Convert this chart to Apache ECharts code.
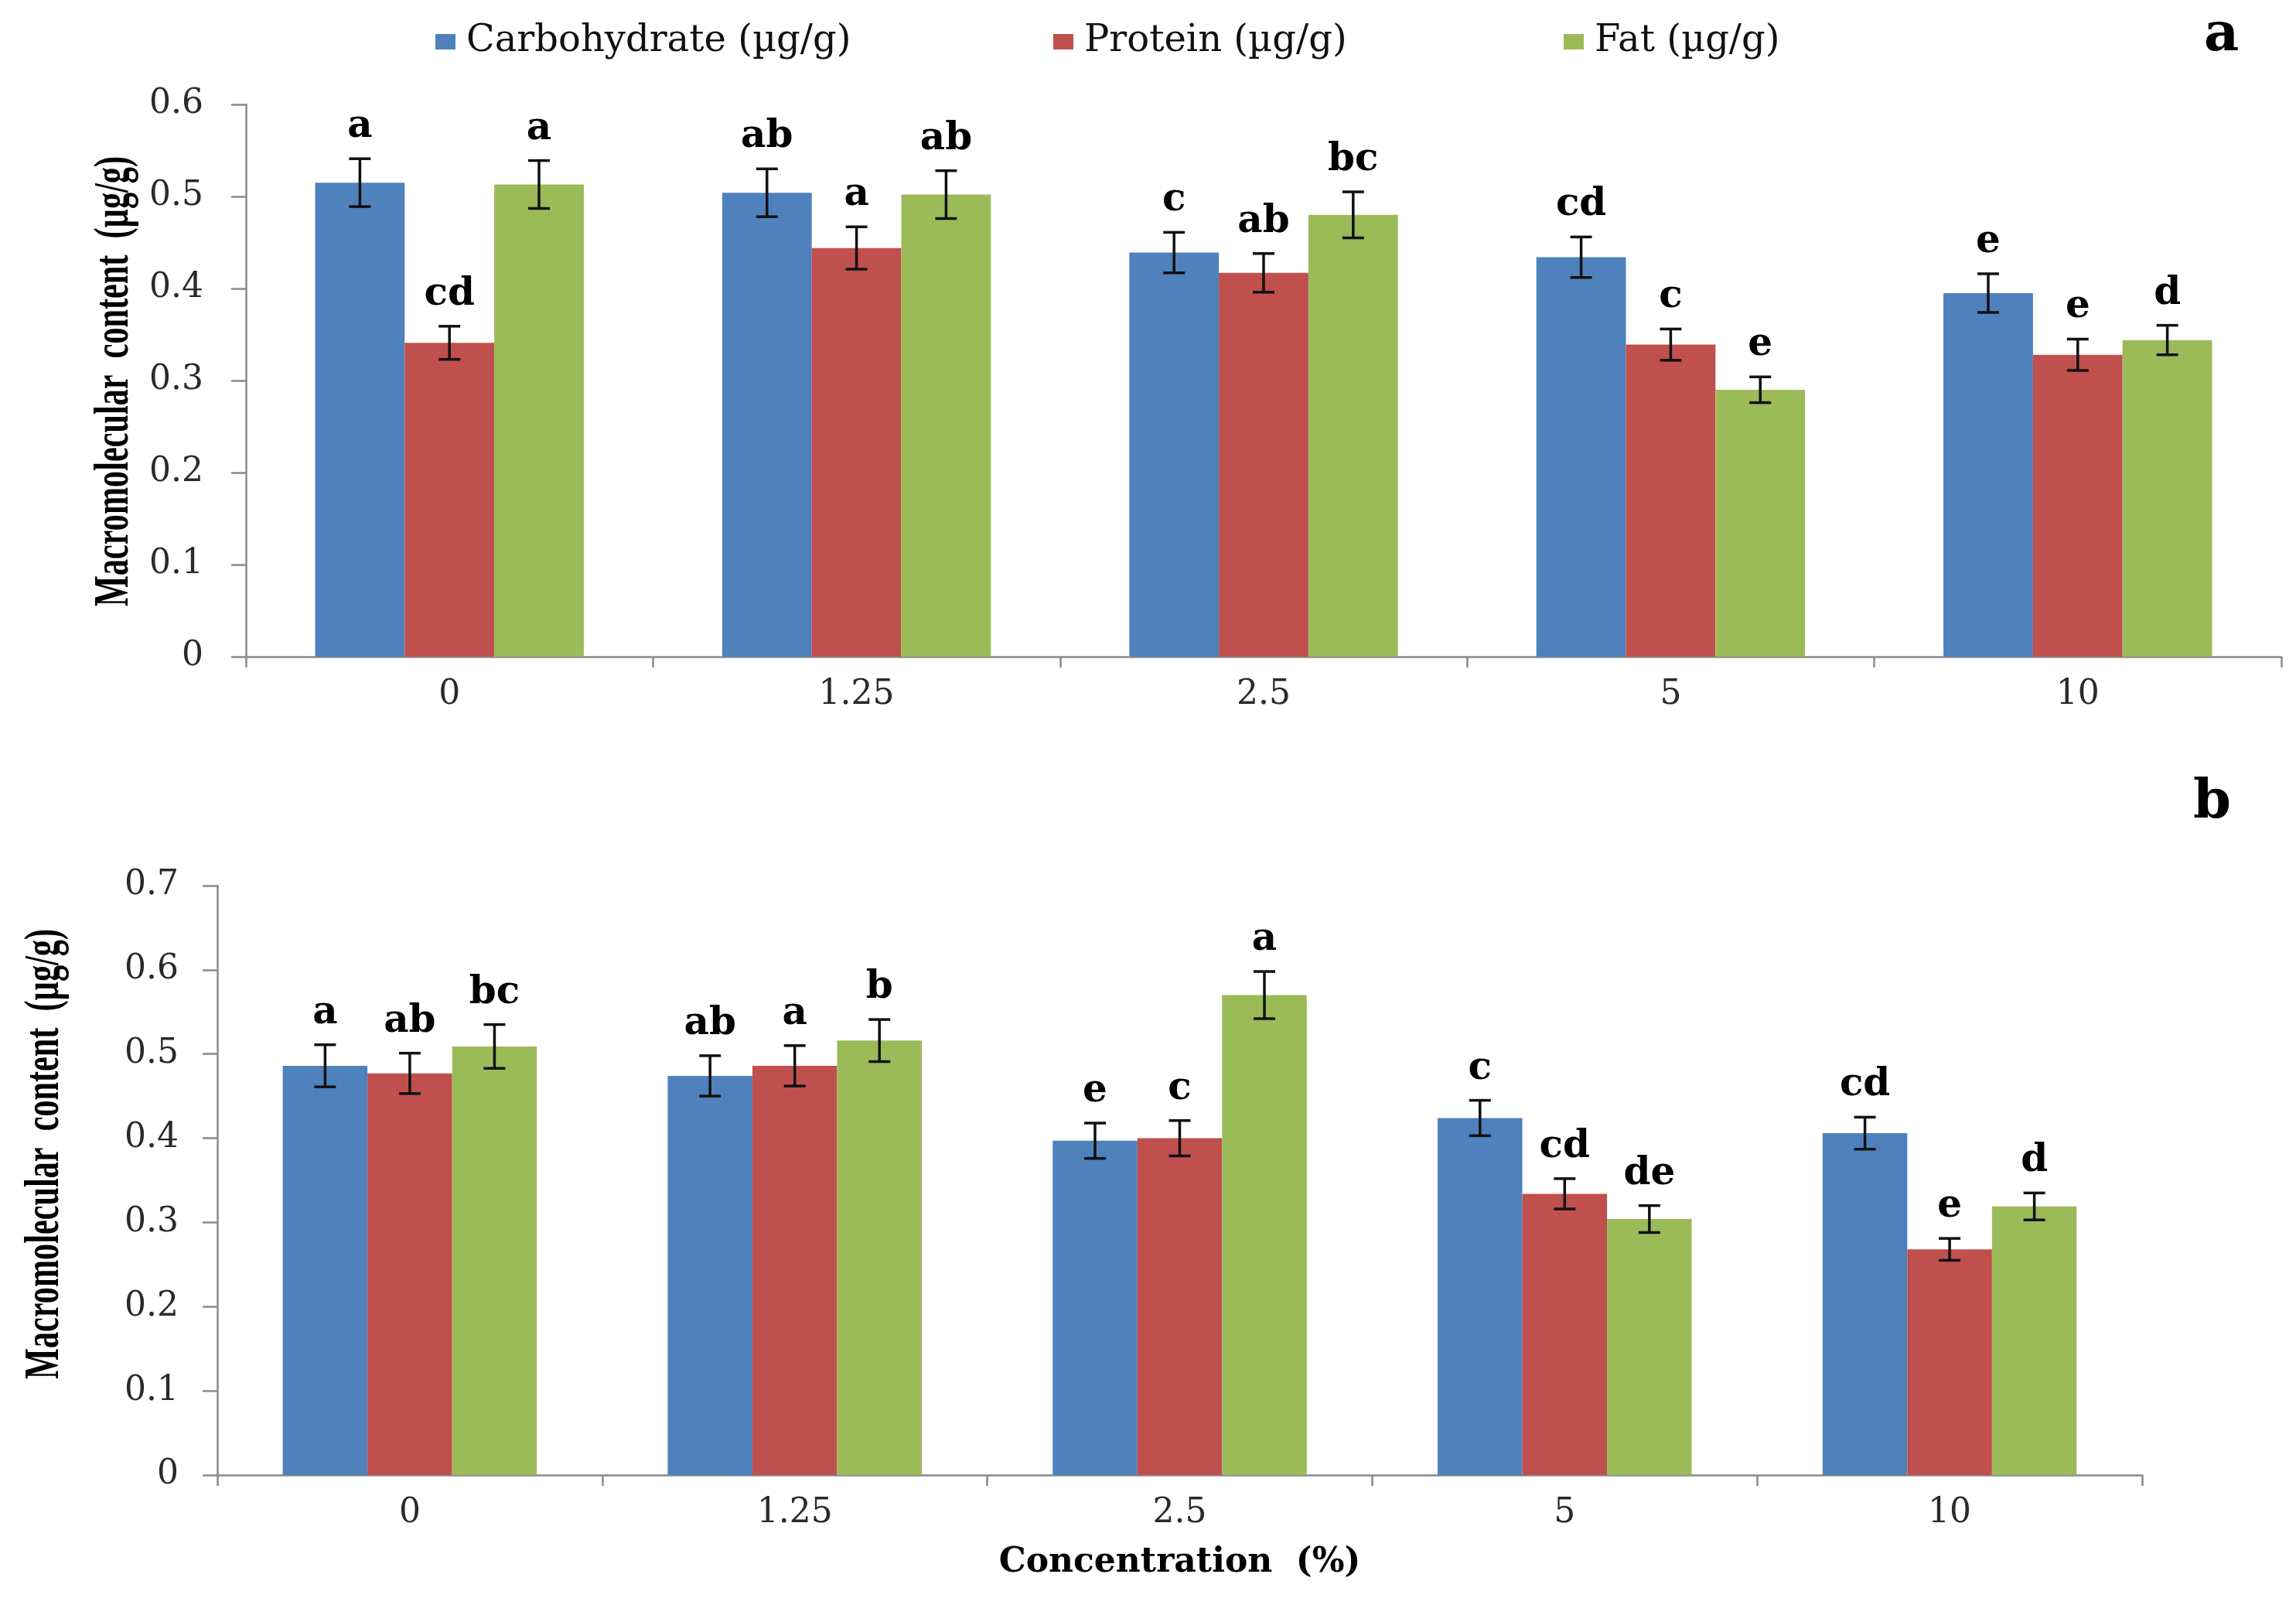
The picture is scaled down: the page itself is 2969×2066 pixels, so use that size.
<!DOCTYPE html>
<html>
<head>
<meta charset="utf-8">
<script src="https://cdn.jsdelivr.net/npm/echarts@6/dist/echarts.min.js"></script>
<style>html,body{margin:0;padding:0;background:#fff}#c{width:2969px;height:2066px}</style>
</head>
<body>
<div id="c"></div>
<script>
// ---- data ----
const categories = ['0', '1.25', '2.5', '5', '10'];
const seriesNames = ['Carbohydrate (µg/g)', 'Protein (µg/g)', 'Fat (µg/g)'];

// panel a
const carbA = [0.515, 0.504, 0.439, 0.434, 0.395];
const carbErrA = [0.026, 0.026, 0.022, 0.022, 0.021];
const protA = [0.341, 0.444, 0.417, 0.339, 0.328];
const protErrA = [0.018, 0.023, 0.021, 0.017, 0.017];
const fatA = [0.513, 0.502, 0.480, 0.290, 0.344];
const fatErrA = [0.026, 0.026, 0.025, 0.014, 0.016];
const carbLettersA = ['a', 'ab', 'c', 'cd', 'e'];
const protLettersA = ['cd', 'a', 'ab', 'c', 'e'];
const fatLettersA = ['a', 'ab', 'bc', 'e', 'd'];

// panel b
const carbB = [0.486, 0.474, 0.397, 0.424, 0.406];
const carbErrB = [0.025, 0.024, 0.021, 0.021, 0.019];
const protB = [0.477, 0.486, 0.400, 0.334, 0.268];
const protErrB = [0.024, 0.024, 0.021, 0.018, 0.013];
const fatB = [0.509, 0.516, 0.570, 0.304, 0.319];
const fatErrB = [0.026, 0.025, 0.028, 0.016, 0.016];
const carbLettersB = ['a', 'ab', 'e', 'c', 'cd'];
const protLettersB = ['ab', 'a', 'c', 'cd', 'e'];
const fatLettersB = ['bc', 'b', 'a', 'de', 'd'];

const yMaxA = 0.6, yMaxB = 0.7, yStep = 0.1;
const yAxisName = 'Macromolecular  content  (µg/g)';
const xAxisName = 'Concentration  (%)';
const panelLabels = ['a', 'b'];

// ---- styling ----
const colors = ['#4F81BD', '#C0504D', '#9BBB59'];
const CAT_GAP = 0.34;
const serif = 'DejaVu Serif';
const axisGray = '#8a8a8a';

function barSeries(g, idx, values) {
  return {
    type: 'bar', name: seriesNames[idx], xAxisIndex: g, yAxisIndex: g,
    data: values, barGap: '0%', barCategoryGap: (CAT_GAP * 100) + '%',
    itemStyle: { color: colors[idx] }, silent: true
  };
}

function errSeries(g, idx, values, errs, letters) {
  return {
    type: 'custom', name: seriesNames[idx], xAxisIndex: g, yAxisIndex: g, z: 10, silent: true,
    data: values.map((v, i) => [i, v, errs[i]]),
    encode: { x: 0, y: 1 },
    renderItem: function (params, api) {
      const i = api.value(0), m = api.value(1), e = api.value(2);
      const band = api.size([1, 0])[0];
      const bw = band * (1 - CAT_GAP) / 3;
      const cx = api.coord([i, m])[0] + (idx - 1) * bw;
      const yTop = api.coord([i, m + e])[1];
      const yBot = api.coord([i, m - e])[1];
      const cap = 14;
      const ls = { stroke: '#111', lineWidth: 3.5 };
      return {
        type: 'group', children: [
          { type: 'line', shape: { x1: cx, y1: yTop, x2: cx, y2: yBot }, style: ls },
          { type: 'line', shape: { x1: cx - cap, y1: yTop, x2: cx + cap, y2: yTop }, style: ls },
          { type: 'line', shape: { x1: cx - cap, y1: yBot, x2: cx + cap, y2: yBot }, style: ls },
          { type: 'text', style: { text: letters[params.dataIndex], x: cx, y: yTop - 16,
              align: 'center', verticalAlign: 'bottom',
              font: 'bold 50px "' + serif + '"', fill: '#000' } }
        ]
      };
    }
  };
}

function xAxis(g, withName) {
  const ax = {
    type: 'category', gridIndex: g, data: categories,
    axisLine: { lineStyle: { color: axisGray, width: 2.5 } },
    axisTick: { show: true, length: 14, lineStyle: { color: axisGray, width: 2.5 } },
    axisLabel: { margin: 28, fontFamily: serif, fontSize: 44, color: '#2a2a2a' },
    splitLine: { show: false }
  };
  if (withName) {
    ax.name = xAxisName; ax.nameLocation = 'middle'; ax.nameGap = 92;
    ax.nameTextStyle = { fontFamily: serif, fontWeight: 'bold', fontSize: 44, color: '#000' };
  }
  return ax;
}

function yAxis(g, max, margin) {
  return {
    type: 'value', gridIndex: g, min: 0, max: max, interval: yStep,
    axisLine: { show: true, lineStyle: { color: axisGray, width: 2.5 } },
    axisTick: { show: true, length: 19, lineStyle: { color: axisGray, width: 2.5 } },
    axisLabel: { margin: margin, fontFamily: serif, fontSize: 44, color: '#2a2a2a' },
    splitLine: { show: false }
  };
}

function yName(x, y) {
  return {
    type: 'text', x: x, y: y, rotation: Math.PI / 2, scaleX: 0.66, silent: true,
    style: { text: yAxisName, font: 'bold 64px "Liberation Serif"', fill: '#000',
             align: 'center', verticalAlign: 'middle' }
  };
}

const legendLefts = [558, 1357, 2017];
const option = {
  animation: false,
  backgroundColor: '#fff',
  legend: seriesNames.map((n, i) => ({
    data: [{ name: n, icon: 'rect' }], left: legendLefts[i], top: 25,
    itemWidth: 26, itemHeight: 20, selectedMode: false,
    textStyle: { fontFamily: serif, fontSize: 48, color: '#111', padding: [0, 0, 0, 9] }
  })),
  grid: [
    { left: 318, right: 19, top: 135, bottom: 1217 },
    { left: 281, right: 199, top: 1145, bottom: 159 }
  ],
  xAxis: [xAxis(0, false), xAxis(1, true)],
  yAxis: [yAxis(0, yMaxA, 55), yAxis(1, yMaxB, 50)],
  graphic: [
    yName(148, 493),
    yName(58, 1492),
    { type: 'text', left: 2850, top: 12, style: { text: panelLabels[0], font: 'bold 70px "' + serif + '"', fill: '#000' } },
    { type: 'text', left: 2836, top: 1004, style: { text: panelLabels[1], font: 'bold 70px "' + serif + '"', fill: '#000' } }
  ],
  series: [
    barSeries(0, 0, carbA), barSeries(0, 1, protA), barSeries(0, 2, fatA),
    errSeries(0, 0, carbA, carbErrA, carbLettersA),
    errSeries(0, 1, protA, protErrA, protLettersA),
    errSeries(0, 2, fatA, fatErrA, fatLettersA),
    barSeries(1, 0, carbB), barSeries(1, 1, protB), barSeries(1, 2, fatB),
    errSeries(1, 0, carbB, carbErrB, carbLettersB),
    errSeries(1, 1, protB, protErrB, protLettersB),
    errSeries(1, 2, fatB, fatErrB, fatLettersB)
  ]
};
const chart = echarts.init(document.getElementById('c'), null, { renderer: 'canvas' });
chart.setOption(option);
</script>
</body>
</html>
